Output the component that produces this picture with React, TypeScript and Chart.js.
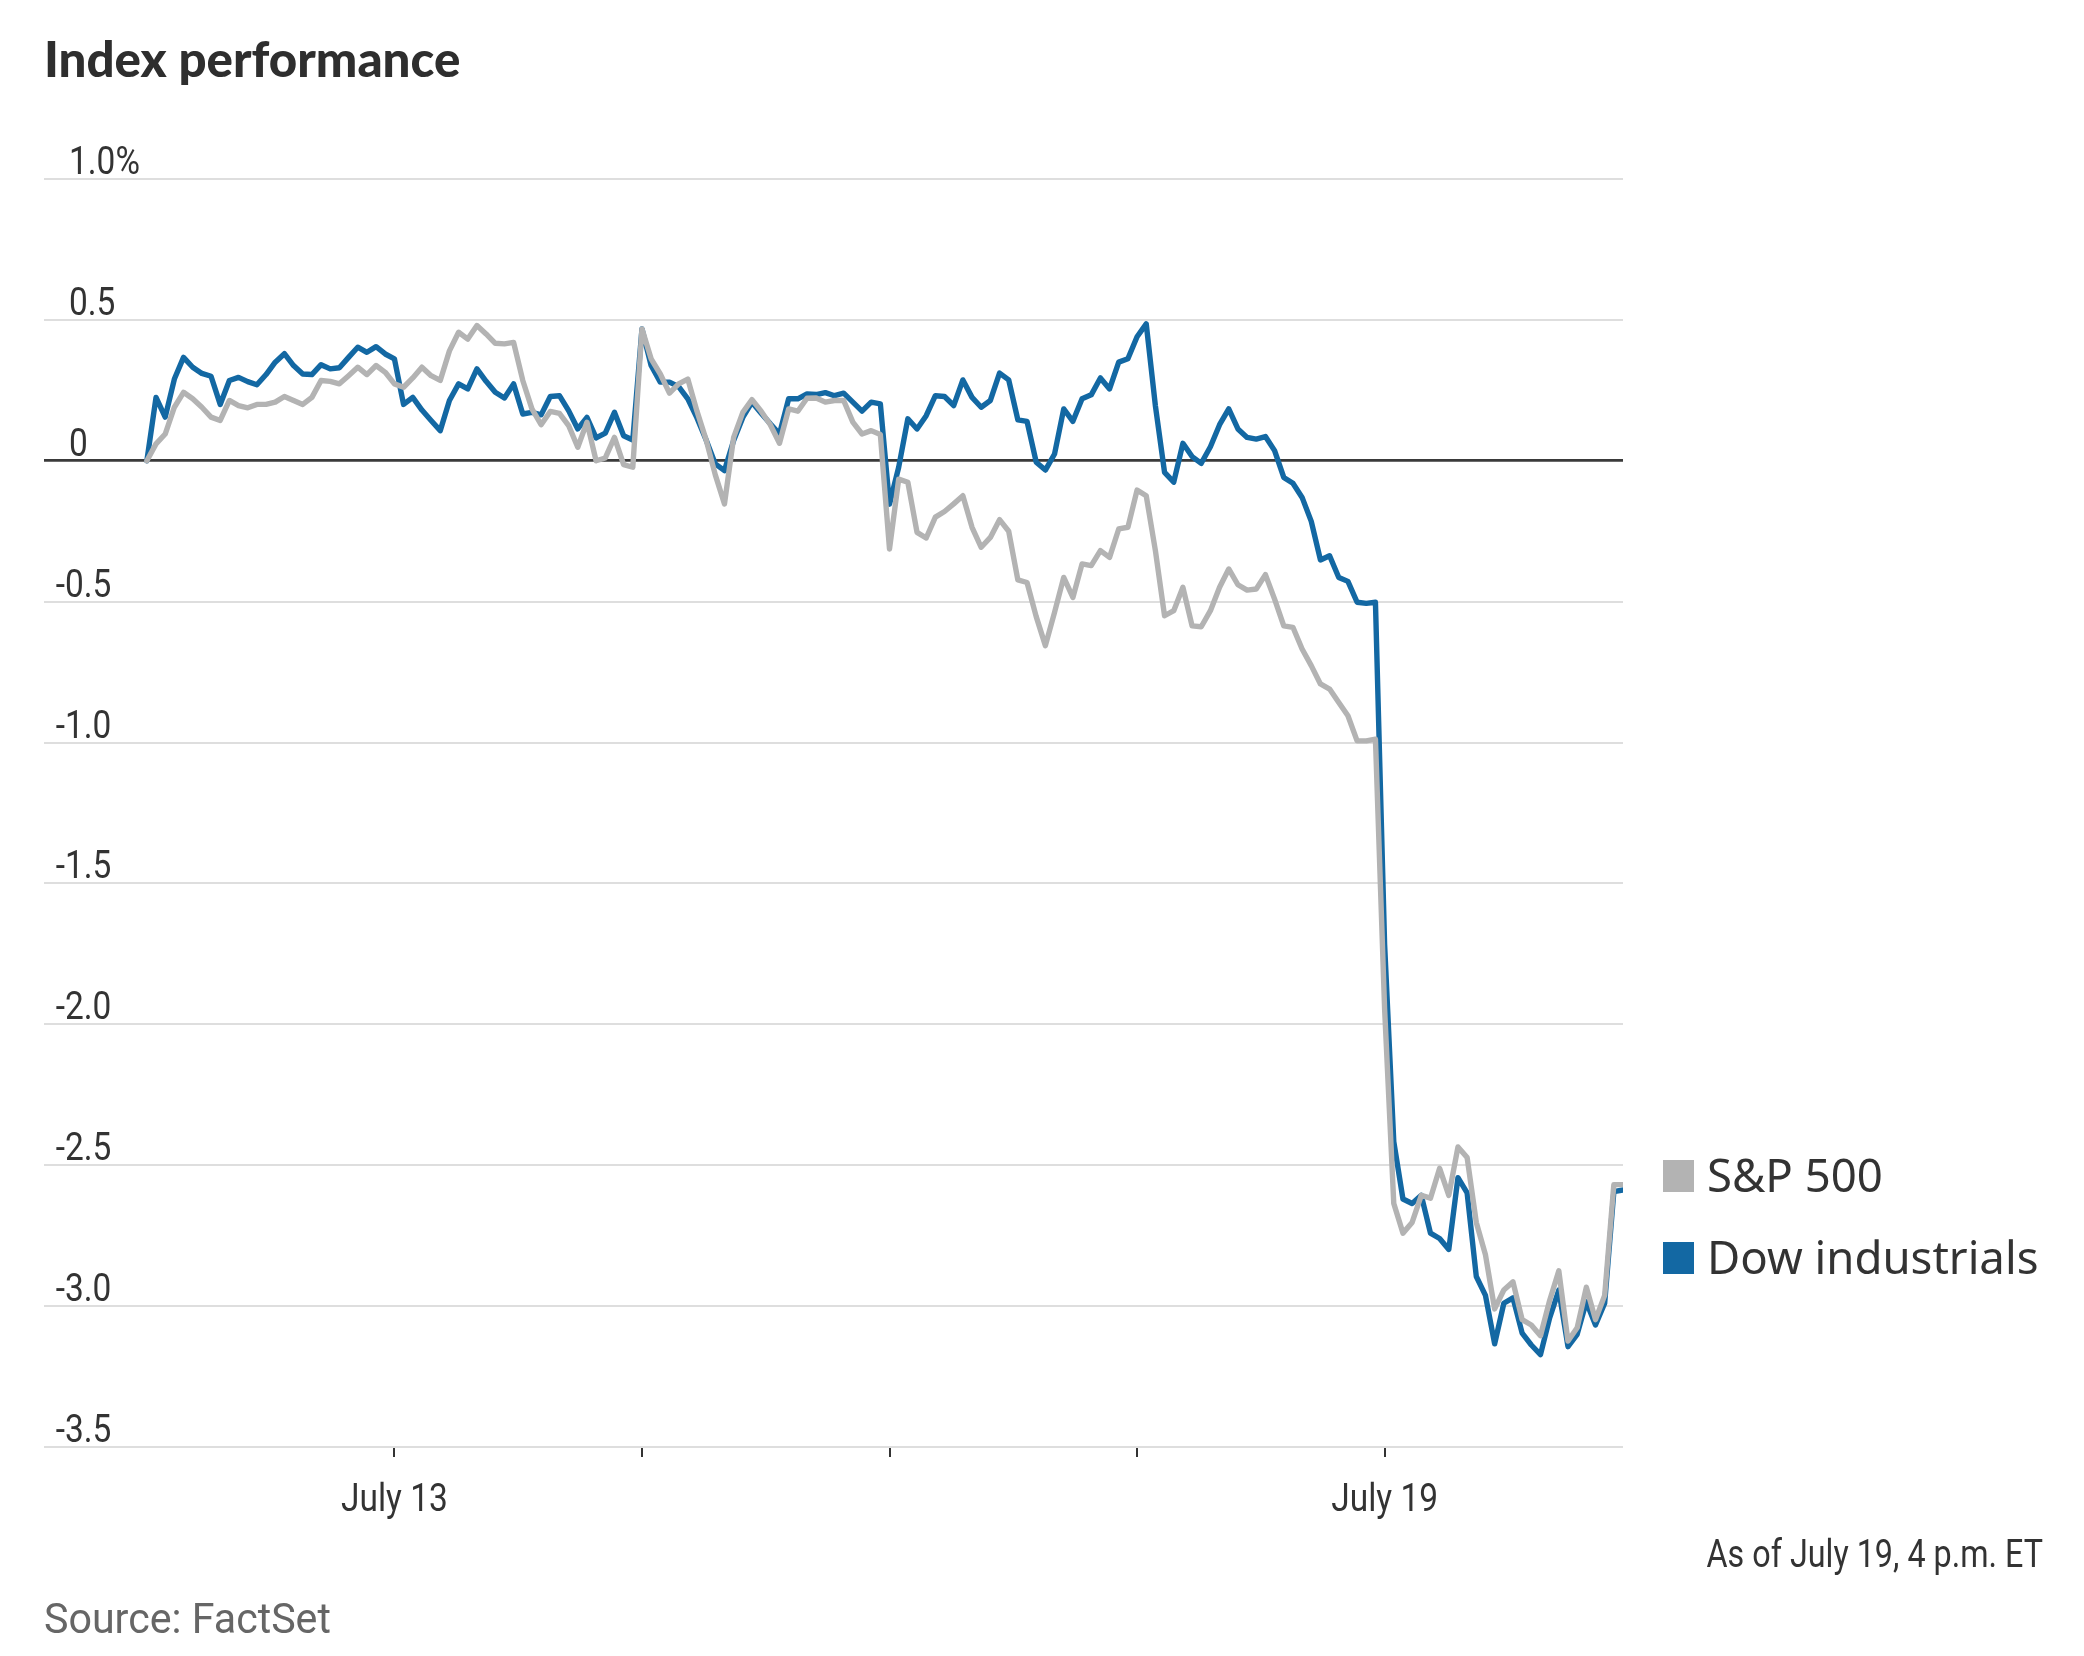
import React, { useEffect, useRef } from 'react';
import { Chart, registerables } from 'chart.js';

Chart.register(...registerables);

// ---- Data -------------------------------------------------------------
// Six trading sessions, 27 readings each (15-minute steps, 9:30 a.m. - 4 p.m.)
const sessions = ['July 12', 'July 13', 'July 14', 'July 15', 'July 16', 'July 19'];
const readingsPerSession = 27;

// Dow industrials, % change
const dowIndustrials = [
  // July 12
  0, 0.225, 0.155, 0.29, 0.367, 0.332, 0.31, 0.3, 0.2, 0.285, 0.296, 0.281, 0.27, 0.306,
  0.35, 0.38, 0.338, 0.308, 0.306, 0.341, 0.326, 0.33, 0.367, 0.403, 0.385, 0.405, 0.379,
  // July 13
  0.362, 0.2, 0.225, 0.18, 0.143, 0.107, 0.214, 0.273, 0.255, 0.326, 0.282, 0.243, 0.223, 0.273,
  0.166, 0.172, 0.163, 0.228, 0.231, 0.178, 0.113, 0.154, 0.081, 0.098, 0.172, 0.089, 0.074,
  // July 14
  0.468, 0.338, 0.279, 0.279, 0.263, 0.22, 0.152, 0.074, -0.011, -0.035, 0.072, 0.154, 0.208, 0.169,
  0.131, 0.095, 0.22, 0.22, 0.237, 0.235, 0.242, 0.231, 0.24, 0.208, 0.176, 0.208, 0.202,
  // July 15
  -0.154, -0.023, 0.149, 0.113, 0.16, 0.231, 0.228, 0.196, 0.287, 0.225, 0.19, 0.214, 0.311, 0.287,
  0.145, 0.14, -0.005, -0.033, 0.024, 0.184, 0.14, 0.22, 0.234, 0.294, 0.255, 0.35, 0.362,
  // July 16
  0.44, 0.486, 0.195, -0.041, -0.076, 0.062, 0.015, -0.009, 0.05, 0.128, 0.184, 0.113, 0.083, 0.077,
  0.086, 0.036, -0.059, -0.08, -0.13, -0.215, -0.352, -0.337, -0.414, -0.428, -0.502, -0.506, -0.502,
  // July 19
  -1.717, -2.416, -2.62, -2.636, -2.607, -2.741, -2.76, -2.799, -2.544, -2.598, -2.895, -2.962, -3.134, -2.99,
  -2.971, -3.096, -3.138, -3.172, -3.042, -2.943, -3.144, -3.1, -2.985, -3.067, -2.99, -2.594, -2.588,
];

// S&P 500, % change
const sp500 = [
  // July 12
  0, 0.06, 0.095, 0.19, 0.243, 0.22, 0.19, 0.155, 0.143, 0.214, 0.196, 0.188, 0.2, 0.2,
  0.208, 0.228, 0.214, 0.2, 0.225, 0.285, 0.282, 0.273, 0.302, 0.332, 0.306, 0.338, 0.314,
  // July 13
  0.273, 0.261, 0.294, 0.332, 0.302, 0.285, 0.39, 0.456, 0.432, 0.48, 0.45, 0.417, 0.415, 0.42,
  0.285, 0.184, 0.128, 0.175, 0.168, 0.125, 0.048, 0.137, 0.0, 0.01, 0.083, -0.014, -0.023,
  // July 14
  0.468, 0.362, 0.308, 0.24, 0.273, 0.29, 0.176, 0.074, -0.05, -0.153, 0.083, 0.172, 0.217, 0.176,
  0.128, 0.062, 0.184, 0.176, 0.222, 0.223, 0.208, 0.214, 0.214, 0.137, 0.095, 0.107, 0.093,
  // July 15
  -0.313, -0.065, -0.076, -0.254, -0.274, -0.2, -0.18, -0.153, -0.124, -0.236, -0.307, -0.272, -0.209, -0.25,
  -0.423, -0.432, -0.553, -0.656, -0.538, -0.414, -0.485, -0.366, -0.372, -0.319, -0.343, -0.242, -0.236,
  // July 16
  -0.104, -0.124, -0.319, -0.55, -0.532, -0.449, -0.586, -0.589, -0.532, -0.449, -0.384, -0.44, -0.459, -0.455,
  -0.404, -0.491, -0.586, -0.591, -0.668, -0.727, -0.792, -0.81, -0.858, -0.905, -0.994, -0.994, -0.988,
  // July 19
  -1.946, -2.636, -2.741, -2.703, -2.607, -2.617, -2.511, -2.607, -2.435, -2.473, -2.703, -2.818, -3.01, -2.943,
  -2.914, -3.048, -3.067, -3.105, -2.98, -2.875, -3.124, -3.077, -2.933, -3.048, -2.962, -2.569, -2.569,
];

const seriesNames = ['S&P 500', 'Dow industrials'];
const seriesColors = ['#b3b3b3', '#1368a3'];

const yTickValues = [1.0, 0.5, 0, -0.5, -1.0, -1.5, -2.0, -2.5, -3.0, -3.5];
const yTickLabels = ['1.0%', '0.5', '0', '-0.5', '-1.0', '-1.5', '-2.0', '-2.5', '-3.0', '-3.5'];
const xTickSessions = [1, 2, 3, 4, 5];
const xTickLabels = ['July 13', '', '', '', 'July 19'];

const titleText = 'Index performance';
const noteText = 'As of July 19, 4 p.m. ET';
const sourceText = 'Source: FactSet';

// ---- Helpers ----------------------------------------------------------
function toPoints(values: number[]) {
  return values.map((v, i) => ({
    x: Math.floor(i / readingsPerSession) + (i % readingsPerSession) / readingsPerSession,
    y: v,
  }));
}

function drawText(
  ctx: CanvasRenderingContext2D,
  text: string,
  x: number,
  y: number,
  align: CanvasTextAlign,
  sx: number
) {
  ctx.save();
  ctx.translate(x, y);
  ctx.scale(sx, 1);
  ctx.textAlign = align;
  ctx.textBaseline = 'alphabetic';
  ctx.fillText(text, 0, 0);
  ctx.restore();
}

const W = 2084;
const H = 1656;
const AREA = { left: 44, right: 1623, top: 179, bottom: 1447 };
const TICK_LEN = 10;

const decorPlugin = {
  id: 'decor',
  afterDraw(chart: any) {
    const ctx: CanvasRenderingContext2D = chart.ctx;
    const ys = chart.scales.y;
    const xs = chart.scales.x;
    ctx.save();

    // Title
    ctx.fillStyle = '#2e2e2e';
    ctx.font = '900 50px Lato';
    drawText(ctx, titleText, 44, 77, 'left', 0.985);

    // Y tick labels (above gridlines, minus sign hanging left)
    const labelFont = '38px Roboto';
    const sx = 0.88;
    ctx.font = labelFont;
    ctx.fillStyle = '#333333';
    const minusW = ctx.measureText('-').width * sx;
    yTickValues.forEach((v, i) => {
      const py = ys.getPixelForValue(v) - 5;
      const s = yTickLabels[i];
      const x0 = s.startsWith('-') ? 69 - minusW - 4 : 69;
      drawText(ctx, s, x0, py, 'left', sx);
    });

    // X tick labels
    xTickSessions.forEach((d, i) => {
      if (!xTickLabels[i]) return;
      drawText(ctx, xTickLabels[i], xs.getPixelForValue(d), 1511, 'center', sx);
    });

    // Legend
    const legendRows = [1192, 1274];
    chart.data.datasets.forEach((ds: any, i: number) => {
      const base = legendRows[i];
      ctx.fillStyle = ds.borderColor;
      ctx.fillRect(1663, base - 32, 31, 32);
      ctx.fillStyle = '#333333';
      ctx.font = '46px "Noto Sans"';
      drawText(ctx, ds.label, 1707, base, 'left', 0.99);
    });

    // Note
    ctx.fillStyle = '#333333';
    ctx.font = labelFont;
    drawText(ctx, noteText, 2043, 1567, 'right', 0.85);

    // Source
    ctx.fillStyle = '#666666';
    ctx.font = '42px Roboto';
    drawText(ctx, sourceText, 44, 1633, 'left', 0.98);

    ctx.restore();
  },
};

export default function App() {
  const canvasRef = useRef<HTMLCanvasElement | null>(null);

  useEffect(() => {
    document.body.style.margin = '0';
    document.body.style.overflow = 'hidden';
    const canvas = canvasRef.current;
    if (!canvas) return;

    const chart = new Chart(canvas, {
      type: 'line',
      data: {
        datasets: [
          {
            label: seriesNames[0],
            data: toPoints(sp500),
            borderColor: seriesColors[0],
            backgroundColor: seriesColors[0],
            borderWidth: 5.4,
            pointRadius: 0,
            tension: 0,
            borderJoinStyle: 'round',
            borderCapStyle: 'round',
          },
          {
            label: seriesNames[1],
            data: toPoints(dowIndustrials),
            borderColor: seriesColors[1],
            backgroundColor: seriesColors[1],
            borderWidth: 5.4,
            pointRadius: 0,
            tension: 0,
            borderJoinStyle: 'round',
            borderCapStyle: 'round',
          },
        ],
      },
      options: {
        responsive: false,
        animation: false,
        events: [],
        layout: {
          padding: {
            left: AREA.left,
            right: W - AREA.right,
            top: AREA.top,
            bottom: H - AREA.bottom - TICK_LEN,
          },
        },
        plugins: {
          legend: { display: false },
          tooltip: { enabled: false },
          title: { display: false },
        },
        scales: {
          x: {
            type: 'linear',
            min: -0.4155,
            max: sessions.length - 1 + (readingsPerSession - 1) / readingsPerSession,
            afterBuildTicks: (axis: any) => {
              axis.ticks = xTickSessions.map((v) => ({ value: v }));
            },
            ticks: { display: false },
            border: { display: false },
            grid: {
              drawOnChartArea: false,
              drawTicks: true,
              tickLength: TICK_LEN,
              tickWidth: 2,
              tickColor: '#333333',
              color: '#333333',
              lineWidth: 2,
            },
          },
          y: {
            type: 'linear',
            min: -3.5,
            max: 1.0,
            afterBuildTicks: (axis: any) => {
              axis.ticks = yTickValues.map((v) => ({ value: v }));
            },
            ticks: { display: false },
            border: { display: false },
            grid: {
              drawTicks: false,
              color: (c: any) => (c.tick && c.tick.value === 0 ? '#3a3a3a' : '#dedede'),
              lineWidth: (c: any) => (c.tick && c.tick.value === 0 ? 2.8 : 2),
            },
          },
        },
      },
      plugins: [decorPlugin],
    } as any);

    return () => chart.destroy();
  }, []);

  return (
    <div style={{ width: W, height: H, position: 'relative', background: '#ffffff' }}>
      <canvas ref={canvasRef} width={W} height={H} style={{ display: 'block' }} />
    </div>
  );
}
